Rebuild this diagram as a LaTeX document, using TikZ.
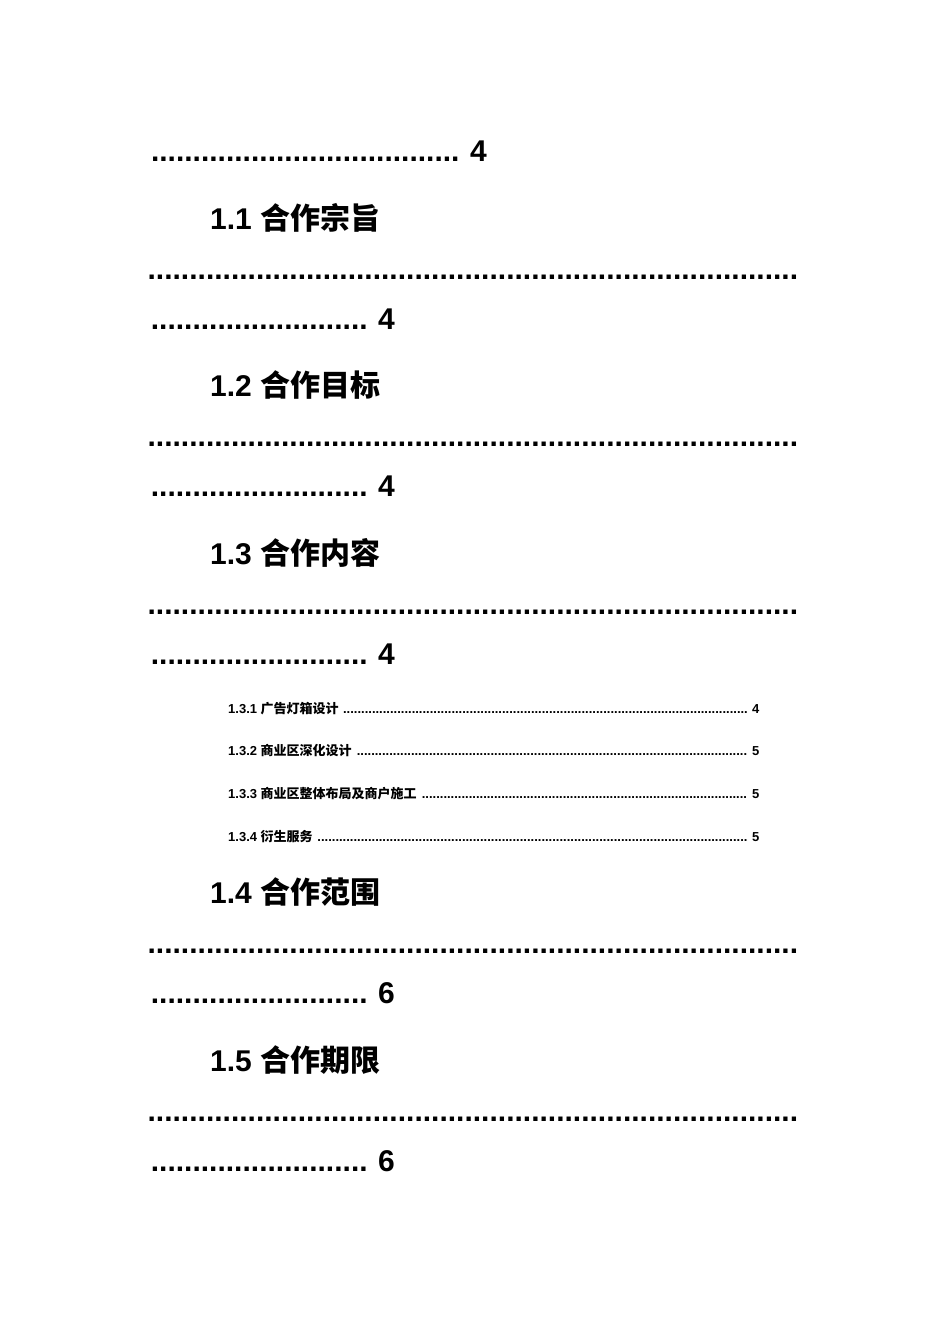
\documentclass[tikz,border=0pt]{standalone}
\usepackage{fontspec}
\setmainfont{Liberation Sans}
\newfontfamily\cjk{Noto Sans CJK SC}
\newcommand{\mydots}[1]{\hbox to #1{\cleaders\hbox{.}\hfill}}
\tikzset{
  big/.style={anchor=base west,inner sep=0pt,font=\fontsize{30}{30}\selectfont\bfseries},
  small/.style={anchor=base west,inner sep=0pt,font=\fontsize{13}{13}\selectfont\bfseries},
}
\begin{document}
\begin{tikzpicture}[x=1pt,y=-1pt]
\useasboundingbox[fill=white] (0,0) rectangle (950,1344);
\node[big] (d0) at (147,161) {\mydots{316pt}};
\node[big] (n0) at (470,161) {4};
\foreach \H/\tx/\n [count=\i] in {229/{1.1 {\cjk 合作宗旨}}/4,396/{1.2 {\cjk 合作目标}}/4,564/{1.3 {\cjk 合作内容}}/4,903/{1.4 {\cjk 合作范围}}/6,1071/{1.5 {\cjk 合作期限}}/6}{
  \node[big] (h\i) at (210,\H) {\tx};
  \node[big] (l\i) at (147,\H+50) {\mydots{651pt}};
  \node[big] (s\i) at (147,\H+100) {\mydots{224pt}};
  \node[big] (p\i) at (378,\H+100) {\n};
}
\foreach \y/\tx/\n [count=\i] in {713/{1.3.1 {\cjk 广告灯箱设计}}/4,755/{1.3.2 {\cjk 商业区深化设计}}/5,798/{1.3.3 {\cjk 商业区整体布局及商户施工}}/5,841/{1.3.4 {\cjk 衍生服务}}/5}{
  \node[small] (e\i) at (228,\y) {\hbox to 531pt{\tx\ \cleaders\hbox{.}\hfill\ \n}};
}
\end{tikzpicture}
\end{document}
